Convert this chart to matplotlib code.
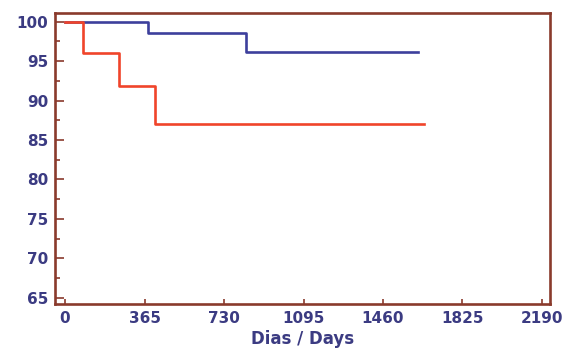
import matplotlib
matplotlib.use("Agg")
import matplotlib.pyplot as plt
from matplotlib.ticker import MultipleLocator

# Kaplan-Meier style step data (days, survival %)
blue_days = [0, 381, 831, 1621]
blue_surv = [100, 98.6, 96.2, 96.2]
red_days = [0, 83, 248, 413, 1648]
red_surv = [100, 96.0, 91.8, 87.0, 87.0]

x_ticks = [0, 365, 730, 1095, 1460, 1825, 2190]
y_ticks = [65, 70, 75, 80, 85, 90, 95, 100]
x_label = "Dias / Days"

spine_c = "#8a3a2c"
label_c = "#3b3b82"

fig = plt.figure(figsize=(5.63, 3.48), dpi=100)
ax = fig.add_axes([0.0977, 0.1264, 0.8793, 0.8362])

ax.step(blue_days, blue_surv, where="post", color="#3d3f9c", lw=1.9, zorder=2)
ax.step(red_days, red_surv, where="post", color="#f0442a", lw=1.9, zorder=3)

ax.set_xlim(-46, 2227)
ax.set_ylim(64.2, 101.1)
ax.set_xticks(x_ticks)
ax.set_yticks(y_ticks)
ax.yaxis.set_minor_locator(MultipleLocator(2.5))

for s in ax.spines.values():
    s.set_color(spine_c)
    s.set_linewidth(1.9)

ax.tick_params(axis="y", which="major", direction="in", length=6.5, width=1.2,
               color=spine_c, labelcolor=label_c, pad=5)
ax.tick_params(axis="y", which="minor", direction="in", length=3.5, width=1.2,
               color=spine_c)
ax.tick_params(axis="x", direction="in", length=3.5, width=1.2,
               color=spine_c, labelcolor=label_c, pad=5)
for lab in ax.get_xticklabels() + ax.get_yticklabels():
    lab.set_fontweight("bold")
    lab.set_fontsize(11)
    lab.set_family("DejaVu Sans")

ax.set_xlabel(x_label, fontsize=12, fontweight="bold", color=label_c,
              family="DejaVu Sans", labelpad=3)

fig.savefig("out.png", dpi=100, facecolor="white")
